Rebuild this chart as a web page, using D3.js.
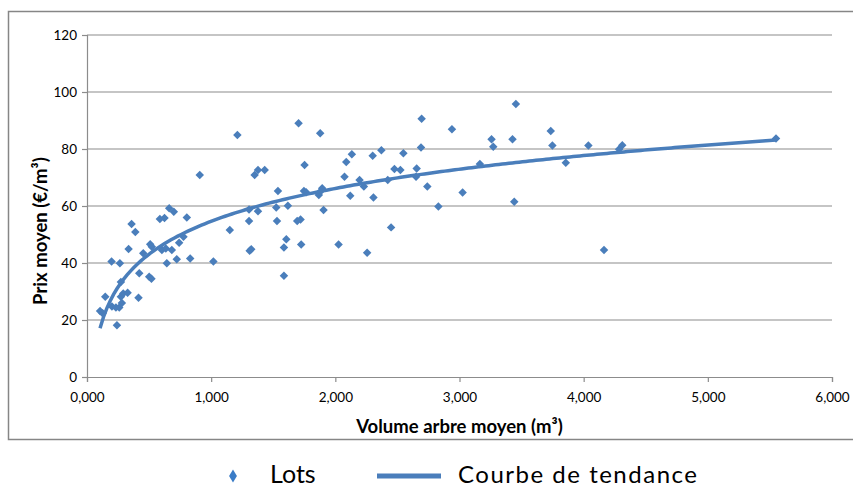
<!DOCTYPE html>
<html lang="fr">
<head>
<meta charset="utf-8">
<script src="https://d3js.org/d3.v7.min.js"></script>
<style>
  body { margin: 0; background: #fff; }
  svg text { font-family: Lato, "Open Sans", sans-serif; fill: #000; }
</style>
</head>
<body>
<div id="chart"></div>
<script>
// volume moyen par arbre (m³) et prix moyen (€/m³) de chaque lot
var volume = [0.105, 0.126, 0.147, 0.198, 0.201, 0.233, 0.241, 0.260, 0.265, 0.273,
  0.273, 0.281, 0.292, 0.327, 0.335, 0.359, 0.389, 0.415, 0.421, 0.453,
  0.501, 0.519, 0.509, 0.522, 0.587, 0.624, 0.662, 0.699, 0.804, 0.603,
  0.635, 0.643, 0.683, 0.723, 0.742, 0.777, 0.831, 0.908, 1.018,
  1.150, 1.211, 1.305, 1.305, 1.310, 1.323, 1.350, 1.377, 1.377, 1.431,
  1.538, 1.524, 1.530, 1.586, 1.586, 1.605, 1.618, 1.704, 1.693, 1.720,
  1.725, 1.752, 1.747, 1.765, 1.878, 1.867, 1.878, 1.894, 1.905, 2.026,
  2.074, 2.088, 2.133, 2.120, 2.195, 2.230, 2.256, 2.301, 2.307, 2.371,
  2.422, 2.449, 2.476, 2.524, 2.548, 2.655, 2.650, 2.690, 2.695, 2.741,
  2.830, 2.939, 3.025, 3.164, 3.258, 3.272, 3.427, 3.441, 3.454, 3.735,
  3.748, 3.856, 4.038, 4.164, 4.285, 4.311, 5.549]
var prix = [23.2, 22.4, 28.2, 40.5, 24.7, 24.4, 18.2, 24.4, 39.9, 28.2,
  33.3, 26.0, 29.3, 29.6, 44.9, 53.7, 50.9, 27.8, 36.4, 43.4,
  35.2, 34.5, 46.6, 45.7, 55.4, 55.8, 59.2, 58.0, 56.0, 44.6,
  45.1, 39.9, 44.6, 41.3, 47.1, 49.2, 41.6, 70.9, 40.5,
  51.6, 84.9, 58.8, 54.7, 44.3, 44.8, 70.9, 72.6, 58.2, 72.6,
  65.3, 59.5, 54.7, 35.5, 45.4, 48.3, 60.1, 89.0, 54.7, 55.3,
  46.5, 74.4, 65.3, 64.8, 85.5, 63.9, 65.0, 66.2, 58.6, 46.5,
  70.3, 75.4, 78.2, 63.6, 69.1, 66.8, 43.6, 77.6, 63.0, 79.6,
  69.1, 52.5, 73.0, 72.6, 78.5, 73.2, 70.3, 80.5, 90.6, 66.8,
  59.8, 86.9, 64.7, 74.7, 83.4, 80.8, 83.4, 61.5, 95.8, 86.3,
  81.2, 75.2, 81.2, 44.6, 79.9, 81.3, 83.7]

var xTicks = [0, 1, 2, 3, 4, 5, 6]
var yTicks = [0, 20, 40, 60, 80, 100, 120]

var width = 853, height = 488
var margin = {left: 87, right: 21, top: 35, bottom: 111}
var blue = "#4a7ebb"

var svg = d3.select("#chart").append("svg")
  .attr("width", width)
  .attr("height", height)

// cadre du graphique
svg.append("rect")
  .attr("x", 8.5).attr("y", 11.5)
  .attr("width", 850).attr("height", 428)
  .attr("fill", "none")
  .attr("stroke", "#868686")
  .attr("stroke-width", 1.5)

var x = d3.scaleLinear().domain([0, 6]).range([margin.left, width - margin.right])
var y = d3.scaleLinear().domain([0, 120]).range([height - margin.bottom, margin.top])

var fr = d3.formatLocale({decimal: ",", thousands: " ", grouping: [3], currency: ["", " €"]})

// grille horizontale
svg.append("g")
  .selectAll("line")
  .data(yTicks.filter(function(d) { return d > 0 }))
  .join("line")
  .attr("x1", x(0)).attr("x2", x(6))
  .attr("y1", function(d) { return y(d) }).attr("y2", function(d) { return y(d) })
  .attr("stroke", "#8c8c8c")
  .attr("stroke-width", 1.2)

var xAxis = svg.append("g")
  .attr("transform", "translate(0," + y(0) + ")")
  .call(d3.axisBottom(x).tickValues(xTicks).tickFormat(fr.format(".3f")).tickSize(5).tickPadding(10))
var yAxis = svg.append("g")
  .attr("transform", "translate(" + x(0) + ",0)")
  .call(d3.axisLeft(y).tickValues(yTicks).tickSize(5).tickPadding(5))

svg.selectAll(".domain, .tick line").attr("stroke", "#8c8c8c").attr("stroke-width", 1.2)
svg.selectAll(".tick text").style("font-size", "13.5px").style("font-family", "Lato")

// titres des axes
svg.append("text")
  .attr("x", (x(0) + x(6)) / 2 - 0).attr("y", 433)
  .attr("text-anchor", "middle")
  .style("font-size", "18.5px").style("font-weight", "bold")
  .text("Volume arbre moyen (m³)")

svg.append("text")
  .attr("transform", "translate(47," + (y(60) + 25) + ") rotate(-90)")
  .attr("text-anchor", "middle")
  .style("font-size", "18.5px").style("font-weight", "bold")
  .text("Prix moyen (€/m³)")

// courbe de tendance logarithmique (moindres carrés sur ln x)
var lx = volume.map(Math.log)
var mx = d3.mean(lx), my = d3.mean(prix)
var a = d3.sum(lx, function(v, i) { return (v - mx) * (prix[i] - my) }) / d3.sum(lx, function(v) { return (v - mx) * (v - mx) })
var b = my - a * mx
var xs = d3.range(0, 201).map(function(i) {
  var lo = d3.min(volume), hi = d3.max(volume)
  return lo + (hi - lo) * i / 200
})

// points
svg.append("g")
  .selectAll("path")
  .data(volume)
  .join("path")
  .attr("d", d3.symbol(d3.symbolDiamond2, 46))
  .attr("transform", function(d, i) { return "translate(" + x(d) + "," + y(prix[i]) + ")" })
  .attr("fill", blue)

svg.append("path")
  .datum(xs)
  .attr("d", d3.line().x(function(d) { return x(d) }).y(function(d) { return y(a * Math.log(d) + b) }))
  .attr("fill", "none")
  .attr("stroke", blue)
  .attr("stroke-width", 3.5)

// légende
var leg = svg.append("g")
leg.append("path")
  .attr("d", d3.symbol(d3.symbolDiamond2, 70))
  .attr("transform", "translate(233,476) scale(0.75,1.25)")
  .attr("fill", "#3a7cc7")
leg.append("text")
  .attr("x", 270).attr("y", 483)
  .style("font-size", "25px")
  .text("Lots")
leg.append("line")
  .attr("x1", 377).attr("x2", 441)
  .attr("y1", 476).attr("y2", 476)
  .attr("stroke", blue)
  .attr("stroke-width", 5)
leg.append("text")
  .attr("x", 458).attr("y", 483)
  .style("font-size", "24px")
  .attr("textLength", 239)
  .text("Courbe de tendance")
</script>
</body>
</html>
